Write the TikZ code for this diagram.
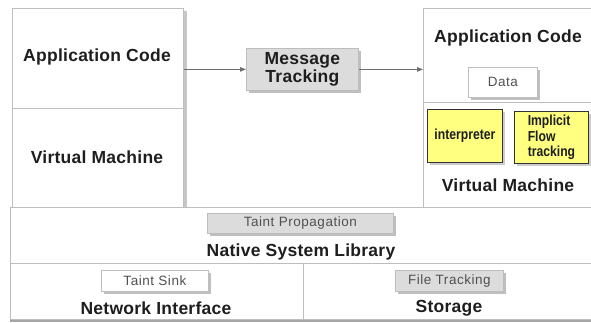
\documentclass[tikz,border=0pt]{standalone}
\usepackage{fontspec}
\setmainfont{Liberation Sans}
\newfontfamily\narrowbold[FakeStretch=0.84]{Liberation Sans Bold}
\newfontfamily\wideface[LetterSpace=4]{Liberation Sans}
\newfontfamily\wideheadface[LetterSpace=1.5]{Liberation Sans Bold}
\usetikzlibrary{shadows,arrows.meta}
\definecolor{edge}{HTML}{BDBDBD}
\definecolor{tagfill}{HTML}{DCDCDC}
\definecolor{note}{HTML}{FFFF80}
\definecolor{ink}{HTML}{1E1E1E}
\definecolor{softink}{HTML}{505050}
\definecolor{wire}{HTML}{6E6E6E}
\tikzset{
  region/.style={draw=edge, line width=0.9pt, fill=white, rectangle, inner sep=0pt, anchor=north west},
  shadowed/.style={drop shadow={shadow xshift=4pt, shadow yshift=-3pt, opacity=0.22, fill=black}},
  head/.style={font=\fontsize{17.5}{18}\wideheadface, text=ink, inner sep=0pt},
  tag/.style={draw=edge, line width=0.8pt, fill=tagfill, font=\fontsize{13.5}{15}\wideface, text=softink,
    inner sep=0pt, anchor=north west, align=center,
    drop shadow={shadow xshift=3pt, shadow yshift=-3pt, opacity=0.25, fill=black}},
  plaintag/.style={tag, fill=white},
  notebox/.style={draw=black!80, line width=0.9pt, fill=note, font=\fontsize{14.5}{15.5}\narrowbold,
    text=ink, inner sep=0pt, anchor=north west,
    drop shadow={shadow xshift=3pt, shadow yshift=-3pt, opacity=0.2, fill=black}},
  flow/.style={draw=wire, line width=0.9pt, -{Triangle[length=6pt,width=4.5pt]}}
}
\begin{document}
\begin{tikzpicture}[x=1pt,y=-1pt]
\useasboundingbox (0,0) rectangle (591,322);
\clip (0,0) rectangle (591,322);
% left column
\node[region, shadowed, minimum width=171pt, minimum height=100pt] (lapp) at (12,8) {};
\node[region, shadowed, minimum width=171pt, minimum height=99pt] (lvm) at (12,108) {};
% right column
\node[region, shadowed, minimum width=172pt, minimum height=94pt] (rapp) at (423,8) {};
\node[region, shadowed, minimum width=172pt, minimum height=105pt] (rvm) at (423,102) {};
% lower layers
\node[region, minimum width=585pt, minimum height=56pt] (native) at (10,207) {};
\node[region, drop shadow={shadow xshift=0pt, shadow yshift=-3pt, opacity=0.35, fill=black}, minimum width=293pt, minimum height=56pt] (net) at (10,263) {};
\node[region, drop shadow={shadow xshift=0pt, shadow yshift=-3pt, opacity=0.35, fill=black}, minimum width=292pt, minimum height=56pt] (stor) at (303,263) {};

% headings
\node[head] (lappt) at (97,57) {Application Code};
\node[head] (lvmt) at (97,157) {Virtual Machine};
\node[head] (rappt) at (508,38) {Application Code};
\node[head] (rvmt) at (508,185) {Virtual Machine};
\node[head] (nativet) at (301,252) {Native System Library};
\node[head] (nett) at (156,308) {Network Interface};
\node[head] (stort) at (449,308) {Storage};

% tags
\node[tag, font=\fontsize{17.5}{18}\wideheadface, text=ink, minimum width=112pt, minimum height=42pt] (msg) at (246,48) {Message\\Tracking};
\node[tag, minimum width=186pt, minimum height=20pt] (tprop) at (207,213) {Taint Propagation};
\node[plaintag, minimum width=107pt, minimum height=21pt] (tsink) at (101,270) {Taint Sink};
\node[tag, minimum width=108pt, minimum height=21pt] (ftrack) at (395,270) {File Tracking};
\node[plaintag, minimum width=69pt, minimum height=30pt] (data) at (468,67) {Data};
\node[notebox, minimum width=75pt, minimum height=53pt] (interp) at (427,109) {interpreter};
\node[notebox, minimum width=74pt, minimum height=52pt, align=left] (implicit) at (514,111) {Implicit\\Flow\\tracking};

% connectors
\draw[flow] (lapp.east |- msg.west) -- (msg.west);
\draw[flow] (msg.east) -- (rapp.west |- msg.east);
\end{tikzpicture}
\end{document}
